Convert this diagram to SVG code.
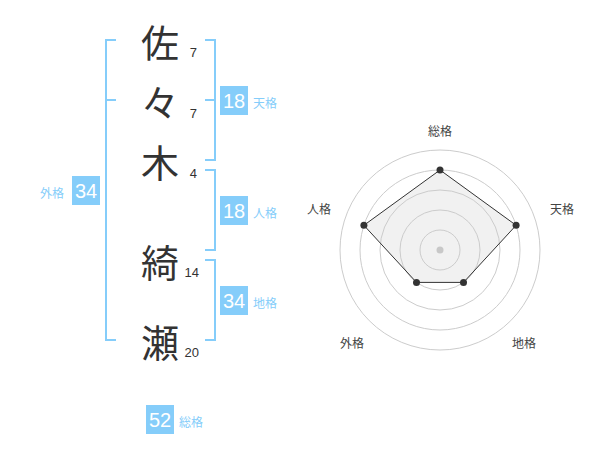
<svg xmlns="http://www.w3.org/2000/svg" width="600" height="470" viewBox="0 0 600 470">
<style>
.kanji{font-family:"Noto Sans CJK JP","Noto Sans",sans-serif;font-size:38px;fill:#333;text-anchor:middle;dominant-baseline:central}
.num{font-family:"Liberation Sans",Arial,sans-serif;font-size:13px;fill:#333;text-anchor:end}
.box{fill:#85CDFA}
.boxt{font-family:"Liberation Sans",Arial,sans-serif;font-size:20px;fill:#fff;text-anchor:middle;dominant-baseline:central}
.lbl{font-family:"Noto Sans CJK JP",sans-serif;font-size:12px;fill:#85CDFA;dominant-baseline:central}
.br{fill:none;stroke:#85CDFA;stroke-width:2}
.ring{fill:none;stroke:#cccccc;stroke-width:1}
.rl{font-family:"Noto Sans CJK JP",sans-serif;font-size:12px;fill:#444;text-anchor:middle;dominant-baseline:central}
.pt{fill:#333}
</style>
<rect width="600" height="470" fill="#fff"/>
<g id="connectors">
<path class="br" d="M116,40 H106 V340 H116 M106,100 H116"/>
<path class="br" d="M205,40 H215 V160 H205 M205,100 H215"/>
<path class="br" d="M205,170 H215 V250 H205"/>
<path class="br" d="M205,260 H215 V340 H205"/>
</g>
<g id="char1"><text class="kanji" x="160" y="40">佐</text><text class="num" x="197" y="57">7</text></g>
<g id="char2"><text class="kanji" x="160" y="100">々</text><text class="num" x="197" y="118">7</text></g>
<g id="char3"><text class="kanji" x="160" y="160">木</text><text class="num" x="197" y="178">4</text></g>
<g id="char4"><text class="kanji" x="160" y="260">綺</text><text class="num" x="199" y="277">14</text></g>
<g id="char5"><text class="kanji" x="160" y="340">瀬</text><text class="num" x="199" y="357">20</text></g>
<g id="tenkaku"><rect class="box" x="220" y="86" width="28" height="29"/><text class="boxt" x="234" y="101">18</text><text class="lbl" x="253" y="102">天格</text></g>
<g id="jinkaku"><rect class="box" x="220" y="196" width="28" height="29"/><text class="boxt" x="234" y="211">18</text><text class="lbl" x="253" y="212">人格</text></g>
<g id="chikaku"><rect class="box" x="220" y="286" width="28" height="29"/><text class="boxt" x="234" y="301">34</text><text class="lbl" x="253" y="302">地格</text></g>
<g id="gaikaku"><rect class="box" x="72" y="176" width="28" height="29"/><text class="boxt" x="86" y="191">34</text><text class="lbl" x="40" y="192">外格</text></g>
<g id="soukaku"><rect class="box" x="146" y="405" width="28" height="29"/><text class="boxt" x="160" y="420">52</text><text class="lbl" x="179" y="421">総格</text></g>
<g id="radar">
<circle class="ring" cx="440" cy="250" r="20"/>
<circle class="ring" cx="440" cy="250" r="40"/>
<circle class="ring" cx="440" cy="250" r="60"/>
<circle class="ring" cx="440" cy="250" r="80"/>
<circle class="ring" cx="440" cy="250" r="100"/>
<polygon points="440,170 516.1,225.3 463.5,282.4 416.5,282.4 363.9,225.3" fill="#cccccc" fill-opacity="0.28" stroke="#333" stroke-width="1"/>
<circle cx="440" cy="250" r="3.5" fill="#c8c8c8"/>
<circle class="pt" cx="440" cy="170" r="3.5"/>
<circle class="pt" cx="516.1" cy="225.3" r="3.5"/>
<circle class="pt" cx="463.5" cy="282.4" r="3.5"/>
<circle class="pt" cx="416.5" cy="282.4" r="3.5"/>
<circle class="pt" cx="363.9" cy="225.3" r="3.5"/>
<text class="rl" x="440" y="130">総格</text>
<text class="rl" x="562" y="208">天格</text>
<text class="rl" x="524" y="342">地格</text>
<text class="rl" x="352" y="342">外格</text>
<text class="rl" x="319" y="208">人格</text>
</g>
</svg>
